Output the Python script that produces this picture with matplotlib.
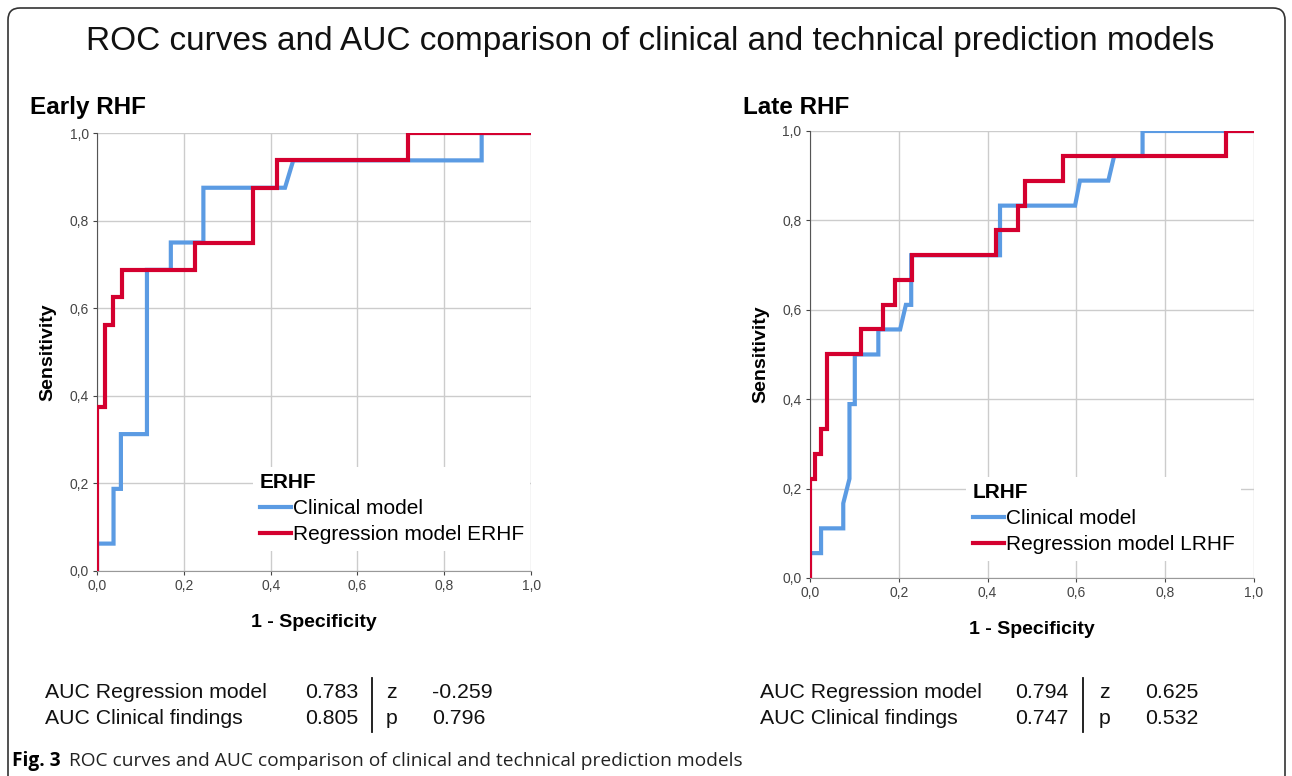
import matplotlib.pyplot as plt
from matplotlib.patches import FancyBboxPatch
from matplotlib.lines import Line2D

# Early RHF ROC curves (1 - specificity, sensitivity)
early_clin_x = [0, 0, 0.038, 0.038, 0.055, 0.055, 0.115, 0.115, 0.17, 0.17, 0.245, 0.245, 0.433, 0.452, 0.886, 0.886, 1.0]
early_clin_y = [0, 0.0625, 0.0625, 0.1875, 0.1875, 0.3125, 0.3125, 0.6875, 0.6875, 0.75, 0.75, 0.875, 0.875, 0.9375, 0.9375, 1.0, 1.0]
early_reg_x = [0, 0, 0.018, 0.018, 0.037, 0.037, 0.057, 0.057, 0.226, 0.226, 0.36, 0.36, 0.415, 0.415, 0.717, 0.717, 1.0]
early_reg_y = [0, 0.375, 0.375, 0.5625, 0.5625, 0.625, 0.625, 0.6875, 0.6875, 0.75, 0.75, 0.875, 0.875, 0.9375, 0.9375, 1.0, 1.0]

# Late RHF ROC curves
late_clin_x = [0, 0, 0.025, 0.025, 0.075, 0.075, 0.089, 0.089, 0.101, 0.101, 0.154, 0.154, 0.203, 0.216, 0.228, 0.228,
               0.428, 0.428, 0.597, 0.608, 0.672, 0.685, 0.749, 0.749, 1.0]
late_clin_y = [0, 0.0556, 0.0556, 0.111, 0.111, 0.167, 0.222, 0.389, 0.389, 0.5, 0.5, 0.556, 0.556, 0.611, 0.611, 0.722,
               0.722, 0.833, 0.833, 0.889, 0.889, 0.944, 0.944, 1.0, 1.0]
late_reg_x = [0, 0, 0.011, 0.011, 0.025, 0.025, 0.0375, 0.0375, 0.115, 0.115, 0.164, 0.164, 0.191, 0.191, 0.229, 0.229,
              0.42, 0.42, 0.469, 0.469, 0.484, 0.484, 0.57, 0.57, 0.938, 0.938, 1.0]
late_reg_y = [0, 0.222, 0.222, 0.278, 0.278, 0.333, 0.333, 0.5, 0.5, 0.556, 0.556, 0.611, 0.611, 0.667, 0.667, 0.722,
              0.722, 0.778, 0.778, 0.833, 0.833, 0.889, 0.889, 0.944, 0.944, 1.0, 1.0]

ticks = [0, 0.2, 0.4, 0.6, 0.8, 1.0]
tick_labels = ['0,0', '0,2', '0,4', '0,6', '0,8', '1,0']

auc_early = [['AUC Regression model', '0.783', 'z', '-0.259'], ['AUC Clinical findings', '0.805', 'p', '0.796']]
auc_late = [['AUC Regression model', '0.794', 'z', '0.625'], ['AUC Clinical findings', '0.747', 'p', '0.532']]

BLUE = '#5b9be3'
RED = '#d4002f'
plt.rcParams['font.family'] = ['Liberation Sans', 'DejaVu Sans']

fig = plt.figure(figsize=(12.92, 7.76), dpi=100)

border = FancyBboxPatch((0.08, -0.3), 12.77, 7.98, boxstyle='round,pad=0,rounding_size=0.12',
                        transform=fig.dpi_scale_trans, fill=False, ec='#333333', lw=1.2)
fig.patches.append(border)

fig.text(0.503, 0.946, 'ROC curves and AUC comparison of clinical and technical prediction models',
         ha='center', va='center', fontsize=24, color='#111111')


def roc_panel(rect, title, title_x, cx, cy, rx, ry, leg_title, reg_label, leg_pos):
    ax = fig.add_axes(rect)
    ax.plot(cx, cy, color=BLUE, lw=3, label='Clinical model', solid_joinstyle='miter', zorder=3)
    ax.plot(rx, ry, color=RED, lw=3, label=reg_label, solid_joinstyle='miter', zorder=4)
    ax.set_xlim(0, 1)
    ax.set_ylim(0, 1)
    ax.set_xticks(ticks)
    ax.set_xticklabels(tick_labels)
    ax.set_yticks(ticks)
    ax.set_yticklabels(tick_labels)
    ax.tick_params(length=3, width=0.8, labelsize=10, colors='#444444', pad=3)
    ax.grid(True, color='#cccccc', lw=1)
    for s in ['top', 'right']:
        ax.spines[s].set_visible(False)
    ax.spines['left'].set_color('#555555')
    ax.spines['bottom'].set_color('#999999')
    ax.set_xlabel('1 - Specificity', fontsize=14, fontweight='bold', labelpad=15)
    ax.set_ylabel('Sensitivity', fontsize=14, fontweight='bold', labelpad=9)
    leg = ax.legend(title=leg_title, loc='upper left', bbox_to_anchor=leg_pos, frameon=True,
                    fontsize=15, title_fontproperties={'weight': 'bold', 'size': 15},
                    handlelength=1.5, handletextpad=0.1, labelspacing=0.35, borderpad=0.3)
    leg._legend_box.align = 'left'
    leg.get_frame().set_edgecolor('none')
    leg.get_frame().set_facecolor('white')
    leg.get_frame().set_alpha(1)
    fig.text(title_x, 0.861, title, fontsize=17.5, fontweight='bold', va='center')
    return ax


roc_panel([0.0751, 0.2642, 0.336, 0.5644], 'Early RHF', 0.023,
          early_clin_x, early_clin_y, early_reg_x, early_reg_y, 'ERHF', 'Regression model ERHF', (0.336, 0.262))
roc_panel([0.6269, 0.2552, 0.3437, 0.576], 'Late RHF', 0.575,
          late_clin_x, late_clin_y, late_reg_x, late_reg_y, 'LRHF', 'Regression model LRHF', (0.329, 0.25))


def auc_table(rows, x0, x1, xbar, x2, x3):
    for i, row in enumerate(rows):
        y = 1 - (692 + i * 26) / 776
        fig.text(x0, y, row[0], fontsize=15.3, va='center', color='#111111')
        fig.text(x1, y, row[1], fontsize=15.3, va='center', color='#111111')
        fig.text(x2, y, row[2], fontsize=15.3, va='center', color='#111111')
        fig.text(x3, y, row[3], fontsize=15.3, va='center', color='#111111')
    fig.add_artist(Line2D([xbar, xbar], [1 - 678 / 776, 1 - 732 / 776], color='#111111', lw=1.3))


auc_table(auc_early, 45 / 1292, 305 / 1292, 372 / 1292, 386 / 1292, 432 / 1292)
auc_table(auc_late, 760 / 1292, 1015 / 1292, 1083 / 1292, 1099 / 1292, 1145 / 1292)

fig.text(12 / 1292, 1 - 761 / 776, 'Fig. 3', fontsize=13.8, fontweight='bold', va='center',
         family=['Open Sans', 'DejaVu Sans'])
fig.text(69 / 1292, 1 - 761 / 776, 'ROC curves and AUC comparison of clinical and technical prediction models',
         fontsize=13.8, va='center', family=['Open Sans', 'DejaVu Sans'], color='#222222')

fig.savefig('out.png', dpi=100)
